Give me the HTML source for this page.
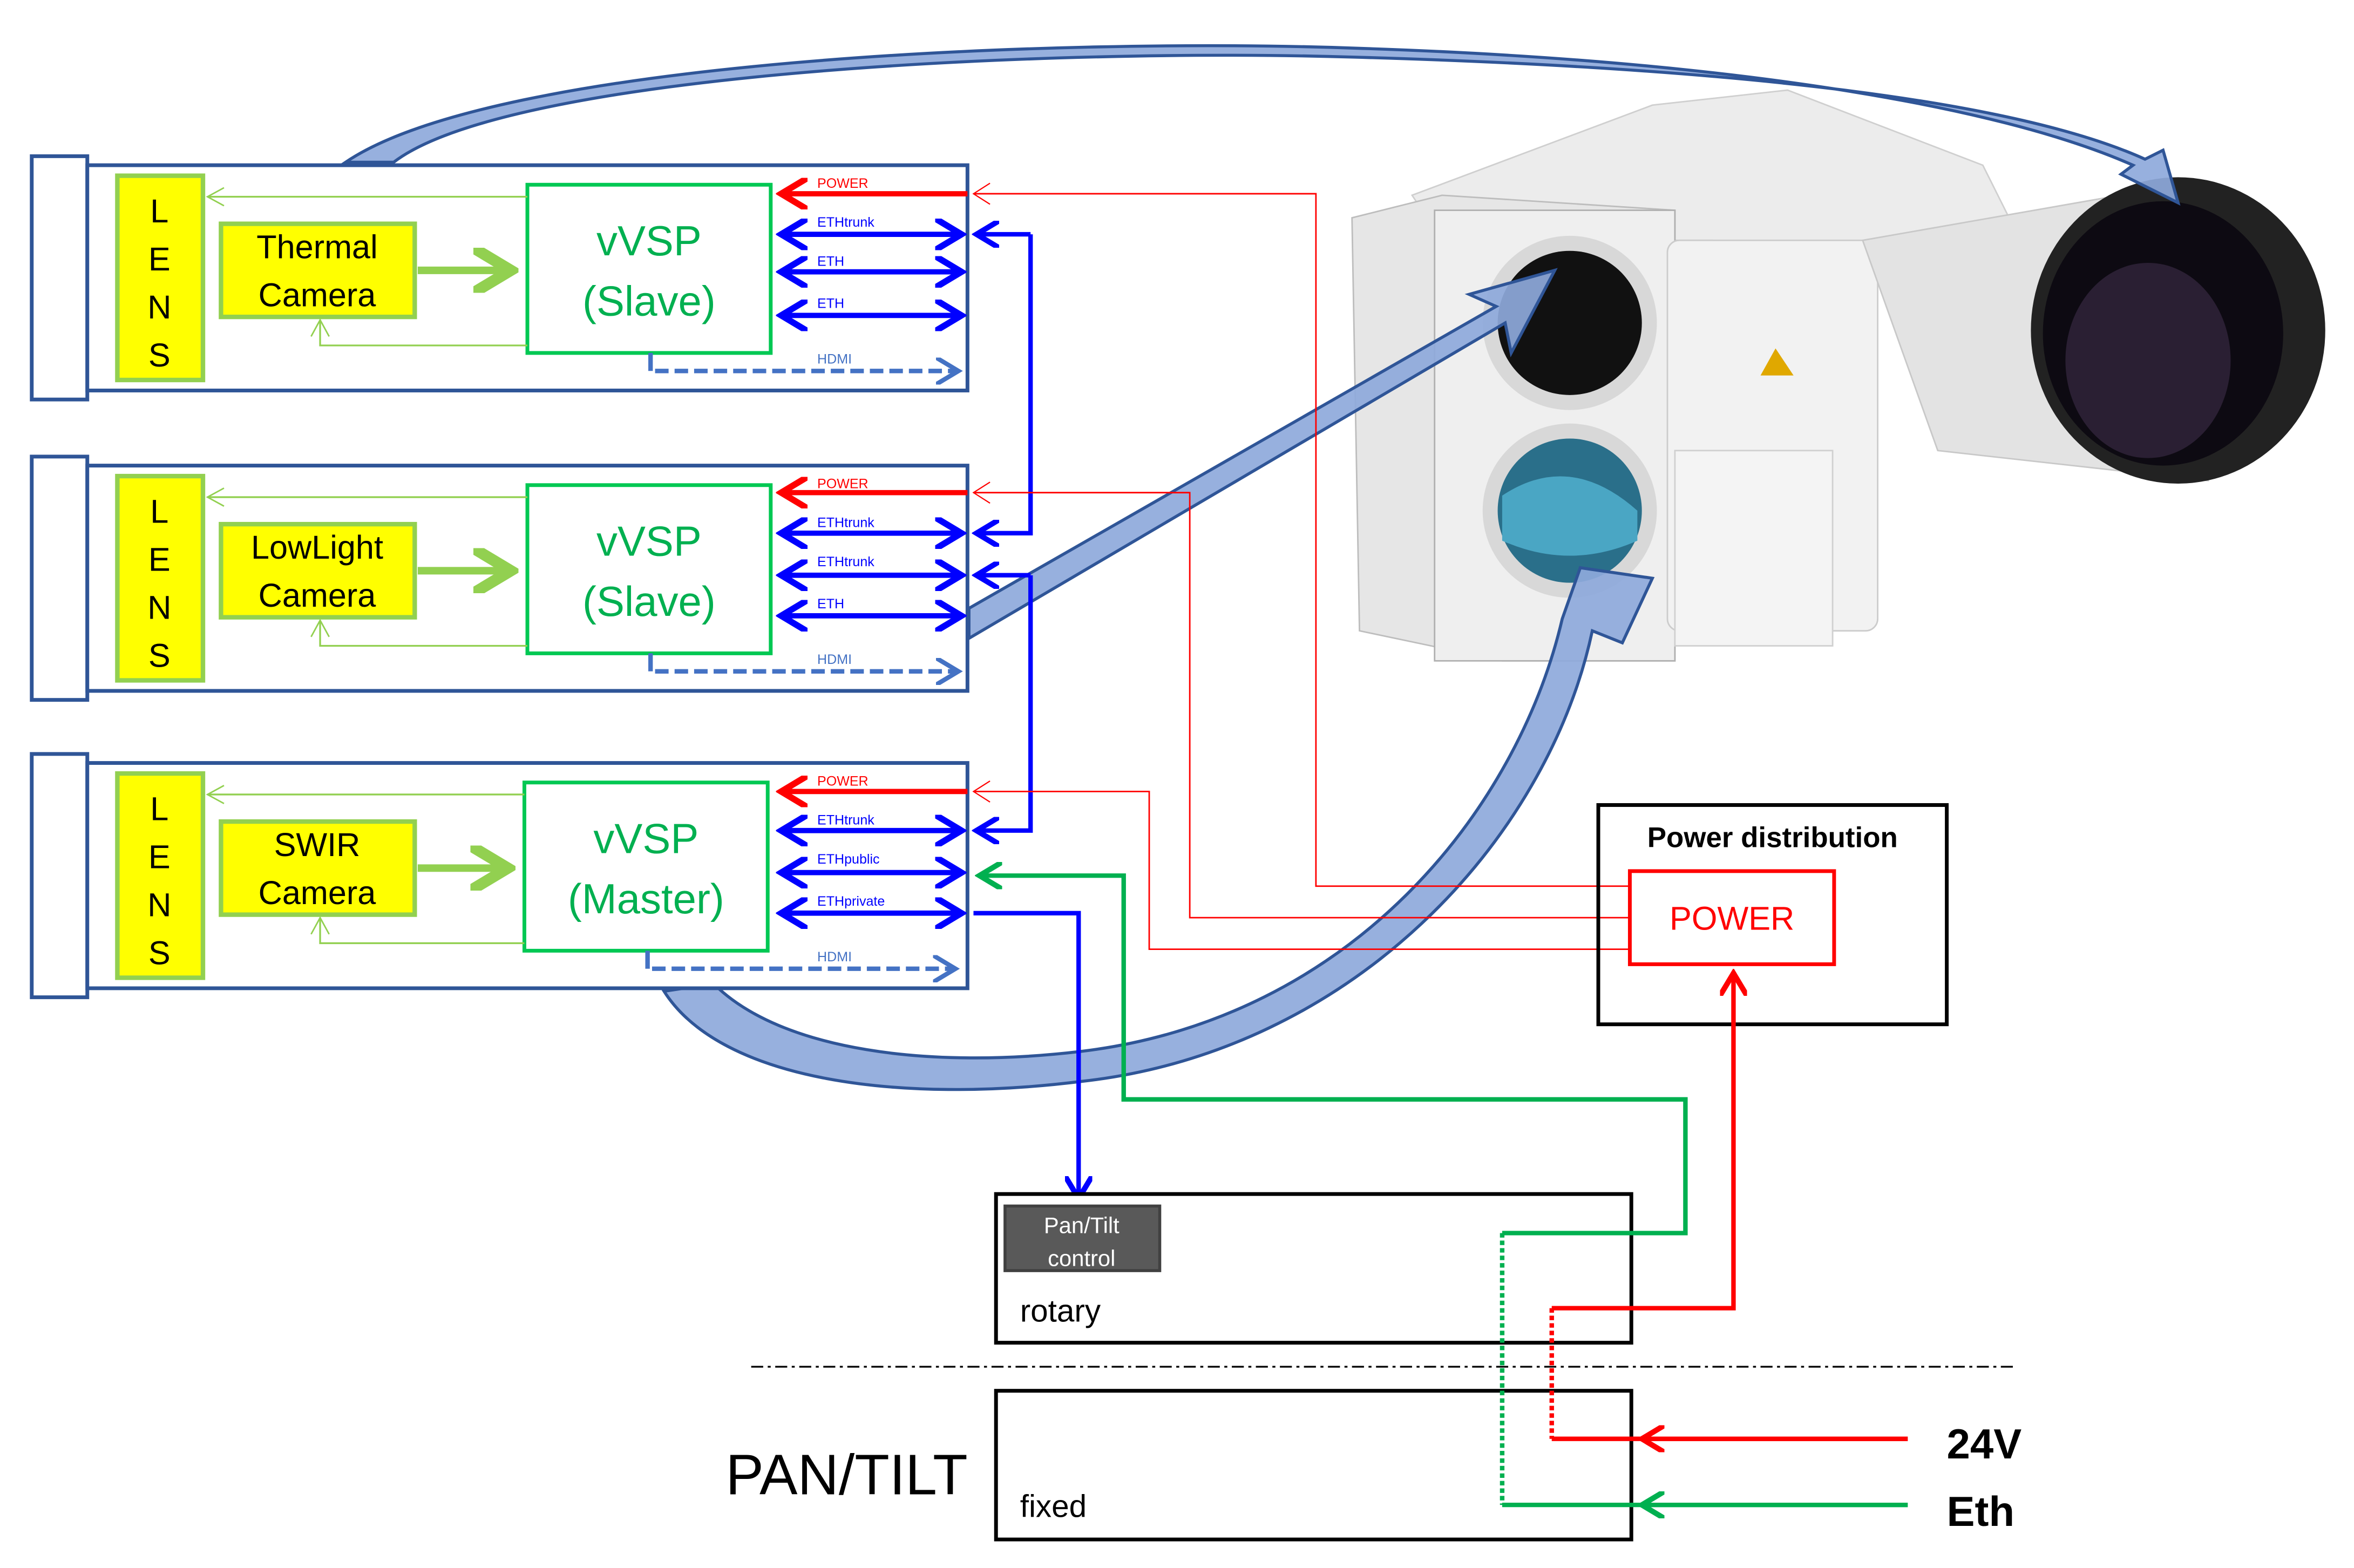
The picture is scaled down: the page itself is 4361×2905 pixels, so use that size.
<!DOCTYPE html>
<html><head><meta charset="utf-8"><style>html,body{margin:0;padding:0;background:#fff}svg{display:block}</style></head>
<body>
<svg width="4361" height="2905" viewBox="0 0 1567 1044" xmlns="http://www.w3.org/2000/svg" font-family="Liberation Sans, DejaVu Sans, sans-serif">
<defs>
<marker id="ab" markerWidth="6" markerHeight="6" refX="5" refY="3" orient="auto-start-reverse" markerUnits="strokeWidth"><path d="M0,0 L5,3 L0,6" fill="none" stroke="#0000ff" stroke-width="1.2"/></marker>
<marker id="ar" markerWidth="6" markerHeight="6" refX="5" refY="3" orient="auto" markerUnits="strokeWidth"><path d="M0,0 L5,3 L0,6" fill="none" stroke="#ff0000" stroke-width="1.2"/></marker>
<marker id="ag" markerWidth="6" markerHeight="6" refX="5" refY="3" orient="auto" markerUnits="strokeWidth"><path d="M0,0 L5,3 L0,6" fill="none" stroke="#00b050" stroke-width="1.2"/></marker>
<marker id="ah" markerWidth="6" markerHeight="6" refX="5" refY="3" orient="auto" markerUnits="strokeWidth"><path d="M0,0 L5,3 L0,6" fill="none" stroke="#4472c4" stroke-width="1"/></marker>
<marker id="agl" markerWidth="6" markerHeight="6" refX="5" refY="3" orient="auto" markerUnits="strokeWidth"><path d="M0,0 L5,3 L0,6" fill="none" stroke="#92d050" stroke-width="1.5"/></marker>
<marker id="al" markerWidth="14" markerHeight="14" refX="12" refY="7" orient="auto" markerUnits="userSpaceOnUse"><path d="M1,1 L12,7 L1,13" fill="none" stroke="#92d050" stroke-width="1"/></marker>
<marker id="arl" markerWidth="14" markerHeight="16" refX="12" refY="8" orient="auto" markerUnits="userSpaceOnUse"><path d="M1,1 L12,8 L1,15" fill="none" stroke="#ff0000" stroke-width="0.8"/></marker>
</defs>

<!-- camera photo approximation -->
<g>
<polygon points="940,130 1100,70 1190,60 1320,110 1340,150 1320,180 1140,160 960,160" fill="#ececec" stroke="#cfcfcf"/>
<polygon points="900,145 960,130 1115,140 1115,440 1000,440 905,420" fill="#e6e6e6" stroke="#bdbdbd"/>
<rect x="955" y="140" width="160" height="300" fill="#efefef" stroke="#b0b0b0"/>
<rect x="1110" y="160" width="140" height="260" rx="8" fill="#f2f2f2" stroke="#cccccc"/>
<rect x="1115" y="300" width="105" height="130" fill="#f4f4f4" stroke="#d0d0d0"/>
<polygon points="1240,160 1440,125 1470,320 1290,300" fill="#e3e3e3" stroke="#c8c8c8"/>
<ellipse cx="1450" cy="220" rx="98" ry="102" fill="#222"/>
<ellipse cx="1440" cy="222" rx="80" ry="88" fill="#0d0a12"/>
<ellipse cx="1430" cy="240" rx="55" ry="65" fill="#2a1f33"/>
<circle cx="1045" cy="215" r="58" fill="#d8d8d8"/>
<circle cx="1045" cy="215" r="48" fill="#111"/>
<circle cx="1045" cy="340" r="58" fill="#d8d8d8"/>
<circle cx="1045" cy="340" r="48" fill="#2a6f8a"/>
<path d="M1000,330 Q1045,300 1090,340 L1090,360 Q1045,380 1000,360Z" fill="#4aa6c4"/>
<polygon points="1182,232 1172,250 1194,250" fill="#e0a800"/>
</g>

<!-- big blue arrows -->
<g fill="#8ea9db" stroke="#2f5597" stroke-width="2" fill-opacity="0.92">
<path d="M230,108 C330,40 700,25 900,32 C1150,40 1330,70 1420,110 L1412,116 L1450,135 L1440,100 L1428,106 C1340,66 1150,45 900,38 C700,32 340,48 262,108 Z"/>
<path d="M645,425 L1002,215 L1006,235 L1035,180 L978,196 L996,204 L645,405 Z"/>
<path d="M442,660 C480,720 600,735 720,720 C900,700 1030,560 1060,420 L1080,428 L1100,385 L1052,378 L1040,412 C1010,540 900,678 720,700 C620,712 520,700 475,655 Z"/>
</g>

<!-- module boxes -->
<g id="mods">
<g stroke="#2f5597" stroke-width="2.5" fill="#fff">
<rect x="21" y="104" width="37" height="162"/><rect x="58" y="110" width="586" height="150"/>
<rect x="21" y="304" width="37" height="162"/><rect x="58" y="310" width="586" height="150"/>
<rect x="21" y="502" width="37" height="162"/><rect x="58" y="508" width="586" height="150"/>
</g>
<g stroke="#92d050" stroke-width="3" fill="#ffff00">
<rect x="78" y="117" width="57" height="136"/><rect x="147" y="149" width="129" height="62"/>
<rect x="78" y="317" width="57" height="136"/><rect x="147" y="349" width="129" height="62"/>
<rect x="78" y="515" width="57" height="136"/><rect x="147" y="547" width="129" height="62"/>
</g>
<g stroke="#00c853" stroke-width="2.5" fill="#fff">
<rect x="351" y="123" width="162" height="112"/>
<rect x="351" y="323" width="162" height="112"/>
<rect x="349" y="521" width="162" height="112"/>
</g>
<g font-size="22" fill="#000" text-anchor="middle">
<text x="106" y="148">L</text><text x="106" y="180">E</text><text x="106" y="212">N</text><text x="106" y="244">S</text>
<text x="106" y="348">L</text><text x="106" y="380">E</text><text x="106" y="412">N</text><text x="106" y="444">S</text>
<text x="106" y="546">L</text><text x="106" y="578">E</text><text x="106" y="610">N</text><text x="106" y="642">S</text>
<text x="211" y="172">Thermal</text><text x="211" y="204">Camera</text>
<text x="211" y="372">LowLight</text><text x="211" y="404">Camera</text>
<text x="211" y="570">SWIR</text><text x="211" y="602">Camera</text>
</g>
<g font-size="28" fill="#00b050" text-anchor="middle">
<text x="432" y="170">vVSP</text><text x="432" y="210">(Slave)</text>
<text x="432" y="370">vVSP</text><text x="432" y="410">(Slave)</text>
<text x="430" y="568">vVSP</text><text x="430" y="608">(Master)</text>
</g>
<g stroke="#92d050" stroke-width="5" fill="none">
<path d="M278,180 L340,180" marker-end="url(#agl)"/>
<path d="M278,380 L340,380" marker-end="url(#agl)"/>
<path d="M278,578 L338,578" marker-end="url(#agl)"/>
</g>
<g stroke="#92d050" stroke-width="1.2" fill="none">
<path d="M351,131 L138,131" marker-end="url(#al)"/>
<path d="M351,230 L213,230 L213,213" marker-end="url(#al)"/>
<path d="M351,331 L138,331" marker-end="url(#al)"/>
<path d="M351,430 L213,430 L213,413" marker-end="url(#al)"/>
<path d="M349,529 L138,529" marker-end="url(#al)"/>
<path d="M349,628 L213,628 L213,611" marker-end="url(#al)"/>
</g>
<g stroke="#ff0000" stroke-width="3.5" fill="none">
<path d="M644,129 L520,129" marker-end="url(#ar)"/>
<path d="M644,328 L520,328" marker-end="url(#ar)"/>
<path d="M644,527 L520,527" marker-end="url(#ar)"/>
</g>
<g stroke="#0000ff" stroke-width="3.5" fill="none">
<path d="M520,156 L640,156" marker-start="url(#ab)" marker-end="url(#ab)"/>
<path d="M520,181 L640,181" marker-start="url(#ab)" marker-end="url(#ab)"/>
<path d="M520,210 L640,210" marker-start="url(#ab)" marker-end="url(#ab)"/>
<path d="M520,355 L640,355" marker-start="url(#ab)" marker-end="url(#ab)"/>
<path d="M520,383 L640,383" marker-start="url(#ab)" marker-end="url(#ab)"/>
<path d="M520,410 L640,410" marker-start="url(#ab)" marker-end="url(#ab)"/>
<path d="M520,553 L640,553" marker-start="url(#ab)" marker-end="url(#ab)"/>
<path d="M520,581 L640,581" marker-start="url(#ab)" marker-end="url(#ab)"/>
<path d="M520,608 L640,608" marker-start="url(#ab)" marker-end="url(#ab)"/>
</g>
<g stroke="#4472c4" stroke-width="3" fill="none">
<path d="M433,235 L433,247"/><path d="M433,447 L433,435"/><path d="M431,633 L431,645"/>
<path d="M436,247 L638,247" stroke-dasharray="9,4" marker-end="url(#ah)"/>
<path d="M436,447 L638,447" stroke-dasharray="9,4" marker-end="url(#ah)"/>
<path d="M434,645 L636,645" stroke-dasharray="9,4" marker-end="url(#ah)"/>
</g>
<g font-size="9" font-family="Liberation Sans Narrow, Liberation Sans, sans-serif">
<text x="544" y="125" fill="#ff0000">POWER</text>
<text x="544" y="151" fill="#0000ff">ETHtrunk</text>
<text x="544" y="177" fill="#0000ff">ETH</text>
<text x="544" y="205" fill="#0000ff">ETH</text>
<text x="544" y="242" fill="#4472c4">HDMI</text>
<text x="544" y="325" fill="#ff0000">POWER</text>
<text x="544" y="351" fill="#0000ff">ETHtrunk</text>
<text x="544" y="377" fill="#0000ff">ETHtrunk</text>
<text x="544" y="405" fill="#0000ff">ETH</text>
<text x="544" y="442" fill="#4472c4">HDMI</text>
<text x="544" y="523" fill="#ff0000">POWER</text>
<text x="544" y="549" fill="#0000ff">ETHtrunk</text>
<text x="544" y="575" fill="#0000ff">ETHpublic</text>
<text x="544" y="603" fill="#0000ff">ETHprivate</text>
<text x="544" y="640" fill="#4472c4">HDMI</text>
</g>
</g>

<g stroke="#0000ff" stroke-width="3" fill="none">
<path d="M686,156 L650,156" marker-end="url(#ab)"/>
<path d="M686,156 L686,355 L650,355" marker-end="url(#ab)"/>
<path d="M686,383 L650,383" marker-end="url(#ab)"/>
<path d="M686,383 L686,553 L650,553" marker-end="url(#ab)"/>
<path d="M648,608 L718,608 L718,798" marker-end="url(#ab)"/>
</g>

<g stroke="#ff0000" stroke-width="1" fill="none">
<path d="M1085,590 L876,590 L876,129 L648,129" marker-end="url(#arl)"/>
<path d="M1085,611 L792,611 L792,328 L648,328" marker-end="url(#arl)"/>
<path d="M1085,632 L765,632 L765,527 L648,527" marker-end="url(#arl)"/>
</g>

<rect x="1064" y="536" width="232" height="146" fill="none" stroke="#000" stroke-width="2.5"/>
<text x="1180" y="564" font-size="19" font-weight="bold" text-anchor="middle">Power distribution</text>
<rect x="1085" y="580" width="136" height="62" fill="#fff" stroke="#ff0000" stroke-width="2.5"/>
<text x="1153" y="619" font-size="22" fill="#ff0000" text-anchor="middle">POWER</text>

<rect x="663" y="795" width="423" height="99" fill="#fff" stroke="#000" stroke-width="2.5"/>
<rect x="669" y="803" width="103" height="43" fill="#595959" stroke="#404040" stroke-width="2"/>
<text x="720" y="821" font-size="15" fill="#fff" text-anchor="middle">Pan/Tilt</text>
<text x="720" y="843" font-size="15" fill="#fff" text-anchor="middle">control</text>
<text x="679" y="880" font-size="21">rotary</text>
<rect x="663" y="926" width="423" height="99" fill="#fff" stroke="#000" stroke-width="2.5"/>
<text x="679" y="1010" font-size="21">fixed</text>
<line x1="500" y1="910" x2="1340" y2="910" stroke="#000" stroke-width="1.2" stroke-dasharray="8,3,2,3"/>
<text x="483" y="995" font-size="38">PAN/TILT</text>
<text x="1296" y="971" font-size="28" font-weight="bold">24V</text>
<text x="1296" y="1016" font-size="28" font-weight="bold">Eth</text>

<g stroke="#00b050" stroke-width="3" fill="none">
<path d="M1000,821 L1122,821 L1122,732 L748,732 L748,583 L652,583" marker-end="url(#ag)"/>
<path d="M1000,821 L1000,1002" stroke-dasharray="3,2"/>
<path d="M1000,1002 L1270,1002"/>
<path d="M1270,1002 L1093,1002" marker-end="url(#ag)"/>
</g>
<g stroke="#ff0000" stroke-width="3" fill="none">
<path d="M1033,871 L1154,871 L1154,648" marker-end="url(#ar)"/>
<path d="M1033,871 L1033,958" stroke-dasharray="3,2"/>
<path d="M1033,958 L1270,958"/>
<path d="M1270,958 L1093,958" marker-end="url(#ar)"/>
</g>
</svg>
</body></html>
